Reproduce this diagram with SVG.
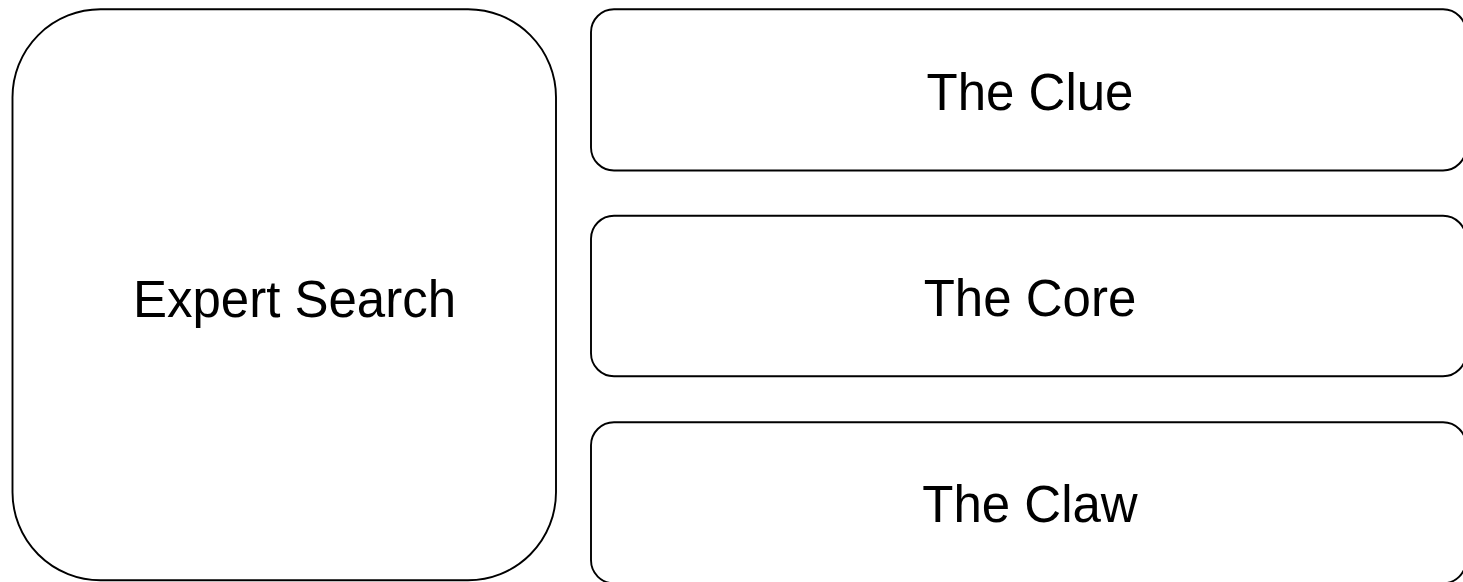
<svg xmlns="http://www.w3.org/2000/svg" width="1463" height="582" viewBox="0 0 1463 582">
<style>
.box{fill:#fff;stroke:#000;stroke-width:1.9}
.lbl{font-family:"Liberation Sans",Arial,sans-serif;font-size:51px;fill:#000;text-anchor:middle}
</style>
<rect width="1463" height="582" fill="#fff"/>
<g id="expert-search">
<rect class="box" x="12.5" y="9.3" width="543.5" height="571" rx="88" ry="88"/>
<text class="lbl" x="294.5" y="317">Expert Search</text>
</g>
<g id="the-clue">
<rect class="box" x="591" y="9.3" width="875" height="161.2" rx="23" ry="23"/>
<text class="lbl" x="1030" y="110">The Clue</text>
</g>
<g id="the-core">
<rect class="box" x="591" y="215.8" width="875" height="160.4" rx="23" ry="23"/>
<text class="lbl" x="1030" y="316">The Core</text>
</g>
<g id="the-claw">
<rect class="box" x="591" y="422.3" width="875" height="161" rx="23" ry="23"/>
<text class="lbl" x="1030" y="522">The Claw</text>
</g>
<g id="connectors"/>
</svg>
